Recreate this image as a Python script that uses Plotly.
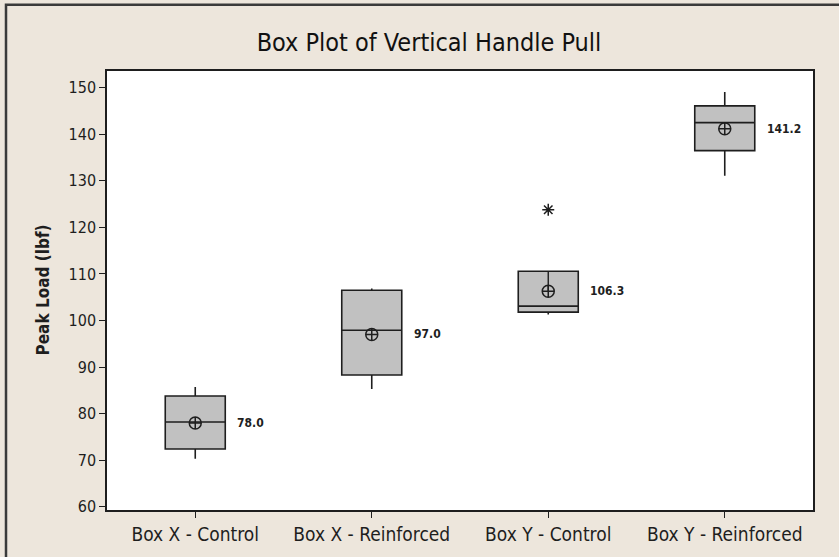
import plotly.graph_objects as go

categories = ["Box X - Control", "Box X - Reinforced", "Box Y - Control", "Box Y - Reinforced"]
q1 = [72.4, 88.3, 101.8, 136.5]
median = [78.2, 97.9, 103.1, 142.5]
q3 = [83.8, 106.5, 110.6, 146.1]
lower_whisker = [70.3, 85.3, 101.3, 131.1]
upper_whisker = [85.7, 106.9, 110.6, 149.1]
means = [78.0, 97.0, 106.3, 141.2]
mean_labels = ["78.0", "97.0", "106.3", "141.2"]
outlier_cats = ["Box Y - Control"]
outlier_vals = [123.8]
y_ticks = [60, 70, 80, 90, 100, 110, 120, 130, 140, 150]

FONT = "DejaVu Sans Condensed, Liberation Sans Narrow, Tahoma, sans-serif"
INK = "#1e1e1e"

W, H = 839, 557
L, R, T, B = 107, 26, 71, 42
PW, PH = W - L - R, H - T - B

fig = go.Figure()

fig.add_trace(go.Box(
    x=categories, q1=q1, median=median, q3=q3,
    lowerfence=lower_whisker, upperfence=upper_whisker,
    fillcolor="#c1c1c1", line=dict(color=INK, width=1.6),
    whiskerwidth=0, width=0.34, boxpoints=False, showlegend=False,
    hoverinfo="skip",
))

# short line from mean up to Q3 seen inside the third box
fig.add_trace(go.Scatter(
    x=[categories[2], categories[2]], y=[means[2], q3[2]],
    mode="lines", line=dict(color=INK, width=1.4), showlegend=False, hoverinfo="skip",
))

fig.add_trace(go.Scatter(
    x=categories, y=means, mode="markers",
    marker=dict(symbol="circle-cross-open", size=12, color=INK, line=dict(width=1.5, color=INK)),
    showlegend=False, hoverinfo="skip",
))

fig.add_trace(go.Scatter(
    x=outlier_cats, y=outlier_vals, mode="markers",
    marker=dict(symbol="asterisk-open", size=10, color=INK, line=dict(width=1.5, color=INK)),
    showlegend=False, hoverinfo="skip",
))

for c, m, t in zip(categories, means, mean_labels):
    fig.add_annotation(x=c, y=m, text="<b>" + t + "</b>", showarrow=False, xanchor="left", xshift=40,
                       font=dict(family=FONT, size=12, color=INK))

fig.add_annotation(xref="paper", yref="paper", x=(42 - L) / PW, y=0.5,
                   xanchor="center", yanchor="middle",
                   text="<b>Peak Load (lbf)</b>", textangle=-90, showarrow=False,
                   font=dict(family=FONT, size=17, color=INK))

# outer frame (left and top edges visible)
fig.add_shape(type="rect", xref="paper", yref="paper",
              x0=(6 - L) / PW, x1=1.5, y0=-0.5, y1=1 + (T - 4) / PH,
              line=dict(color="#3a3a3a", width=2.5), layer="below")

fig.update_layout(
    width=W, height=H,
    margin=dict(l=L, r=R, t=T, b=B),
    paper_bgcolor="#ede6dc", plot_bgcolor="#ffffff",
    title=dict(text="Box Plot of Vertical Handle Pull", x=429 / W, xanchor="center",
               y=1 - 42 / H, yanchor="middle", xref="container", yref="container",
               font=dict(family=FONT, size=25, color="#111111")),
    showlegend=False,
)

fig.update_xaxes(
    type="category", range=[-0.5, 3.5], showgrid=False, zeroline=False,
    showline=True, linecolor=INK, linewidth=1.5, mirror=True,
    ticks="outside", ticklen=6, tickcolor=INK, tickwidth=1.2,
    tickfont=dict(family=FONT, size=19, color=INK),
)
fig.update_yaxes(
    range=[59.3, 153.6], tickvals=y_ticks, showgrid=False, zeroline=False,
    showline=True, linecolor=INK, linewidth=1.5, mirror=True,
    ticks="outside", ticklen=6, tickcolor=INK, tickwidth=1.2,
    tickfont=dict(family=FONT, size=16, color=INK),
)

fig.write_html("out.html", config={"displayModeBar": False},
               post_script="document.body.style.margin='0px';")
